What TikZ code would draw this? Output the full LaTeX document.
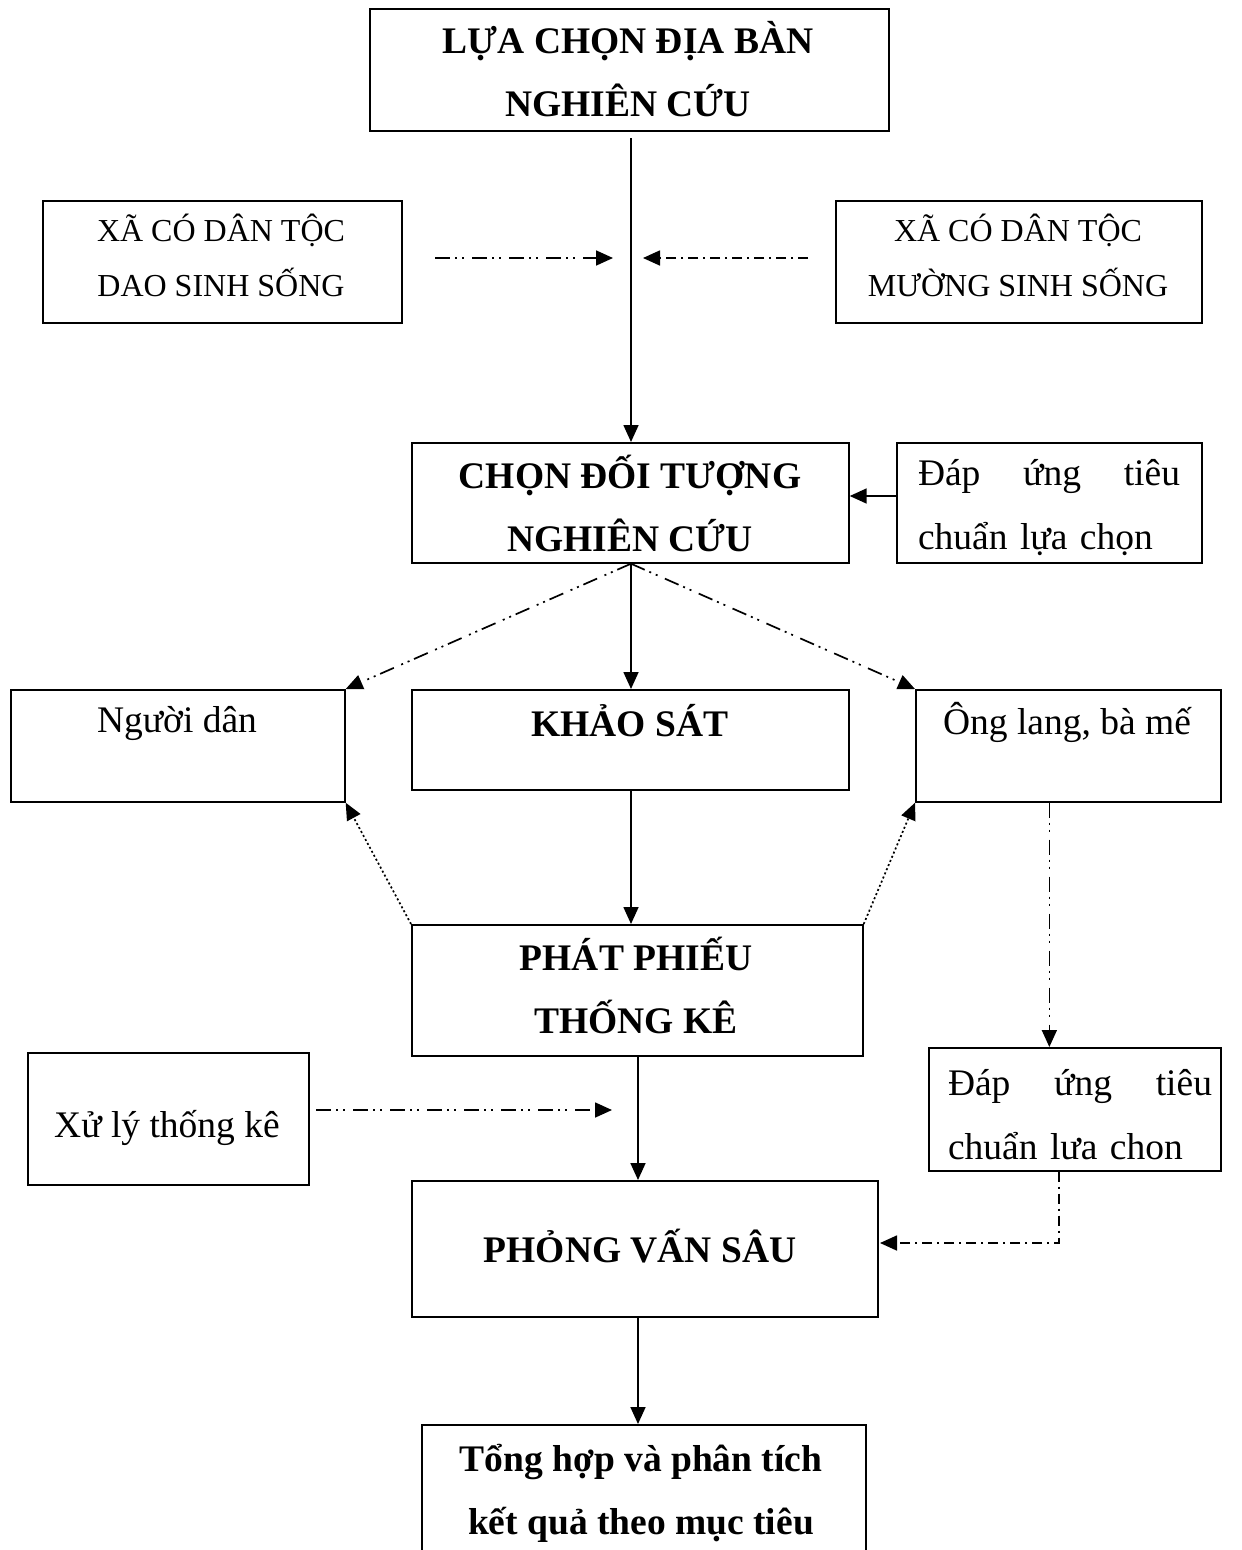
\documentclass[tikz,border=0pt]{standalone}
\usepackage{fontspec}
\setmainfont{Liberation Serif}
\usetikzlibrary{arrows.meta}
\begin{document}
\begin{tikzpicture}[x=1pt,y=-1pt,
  box/.style={draw, line width=1.7pt, inner sep=0pt, anchor=north west},
  ctxt/.style={font=\fontsize{32}{55}\selectfont, align=center, inner sep=0pt},
  txt/.style={font=\fontsize{37.5}{55}\selectfont, align=center, inner sep=0pt},
  btxt/.style={font=\fontsize{37.5}{63}\selectfont\bfseries, align=center, inner sep=0pt},
  jtxt/.style={font=\fontsize{37.5}{64}\selectfont, align=left, inner sep=0pt},
  tip/.style={-{Triangle[length=17pt,width=15pt]}},
  sarrow/.style={line width=1.7pt, tip},
  ddarrow/.style={line width=1.7pt, tip, dash pattern=on 15pt off 5pt on 2pt off 5pt on 2pt off 8pt},
  darrow/.style={line width=1.7pt, tip, dash pattern=on 10pt off 5pt on 2pt off 5pt},
  dotarrow/.style={line width=1.7pt, tip, dash pattern=on 2pt off 2.5pt},
]
\useasboundingbox (0,0) rectangle (1242,1550);
\fill[white] (0,0) rectangle (1242,1550);

% boxes
\node[box, minimum width=519pt, minimum height=122pt] (b1) at (369,8) {};
\node[box, minimum width=359pt, minimum height=122pt] (xl) at (42,200) {};
\node[box, minimum width=366pt, minimum height=122pt] (xr) at (835,200) {};
\node[box, minimum width=437pt, minimum height=120pt] (b2) at (411,442) {};
\node[box, minimum width=305pt, minimum height=120pt] (d1) at (896,442) {};
\node[box, minimum width=334pt, minimum height=112pt] (p) at (10,689) {};
\node[box, minimum width=437pt, minimum height=100pt] (ks) at (411,689) {};
\node[box, minimum width=305pt, minimum height=112pt] (o) at (915,689) {};
\node[box, minimum width=451pt, minimum height=131pt] (b3) at (411,924) {};
\node[box, minimum width=281pt, minimum height=132pt] (xu) at (27,1052) {};
\node[box, minimum width=292pt, minimum height=123pt] (d2) at (928,1047) {};
\node[box, minimum width=466pt, minimum height=136pt] (pv) at (411,1180) {};
\node[box, minimum width=444pt, minimum height=200pt] (bt) at (421,1424) {};

% texts
\node[btxt] (t1) at (628,69) {LỰA CHỌN ĐỊA BÀN\\NGHIÊN CỨU};
\node[ctxt] (txl) at (221,255) {XÃ CÓ DÂN TỘC\\DAO SINH SỐNG};
\node[ctxt] (txr) at (1018,255) {XÃ CÓ DÂN TỘC\\MƯỜNG SINH SỐNG};
\node[btxt] (tb2) at (630,503) {CHỌN ĐỐI TƯỢNG\\NGHIÊN CỨU};
\node[jtxt, text width=262pt] (td1) at (1049,508) {Đáp\hfill ứng\hfill tiêu\\chuẩn lựa chọn};
\node[txt] (tp) at (177,723) {Người dân};
\node[btxt] (tks) at (630,721) {KHẢO SÁT};
\node[txt] (to) at (1067,722) {Ông lang, bà mế};
\node[btxt] (tb3) at (636,985) {PHÁT PHIẾU\\THỐNG KÊ};
\node[jtxt, text width=264pt] (td2) at (1080,1115) {Đáp\hfill ứng\hfill tiêu\\chuẩn lưa chon};
\node[txt] (txu) at (167,1128) {Xử lý thống kê};
\node[btxt] (tpv) at (640,1246) {PHỎNG VẤN SÂU};
\node[btxt] (tbt) at (641,1493) {Tổng hợp và phân tích\\kết quả theo mục tiêu};

% coordinates for free ends
\coordinate (la) at (435,258);
\coordinate (lb) at (613,258);
\coordinate (ra) at (808,258);
\coordinate (rb) at (643,258);
\coordinate (xa) at (316,1110);
\coordinate (xb) at (612,1110);
\coordinate (top) at (631,138);
\coordinate (pvr) at (880,1243);

% connectors
\draw[sarrow] (top) -- (top |- b2.north);
\draw[ddarrow] (la) -- (lb);
\draw[darrow] (ra) -- (rb);
\draw[sarrow] (d1.west |- 0,496) -- (b2.east |- 0,496);
\draw[sarrow] (top |- b2.south) -- (top |- ks.north);
\draw[ddarrow] (top |- b2.south) -- (p.north east);
\draw[ddarrow] (top |- b2.south) -- (o.north west);
\draw[sarrow] (top |- ks.south) -- (top |- b3.north);
\draw[dotarrow] (b3.north west) -- (p.south east);
\draw[dotarrow] (b3.north east) -- (o.south west);
\draw[ddarrow] ([xshift=-19pt]o.south) -- ([xshift=-19pt]o.south |- d2.north);
\draw[ddarrow] (xa) -- (xb);
\draw[sarrow] (638,0 |- b3.south) -- (638,0 |- pv.north);
\draw[darrow] ([xshift=-16pt]d2.south) |- (pvr);
\draw[sarrow] (638,0 |- pv.south) -- (638,0 |- bt.north);
\end{tikzpicture}
\end{document}
